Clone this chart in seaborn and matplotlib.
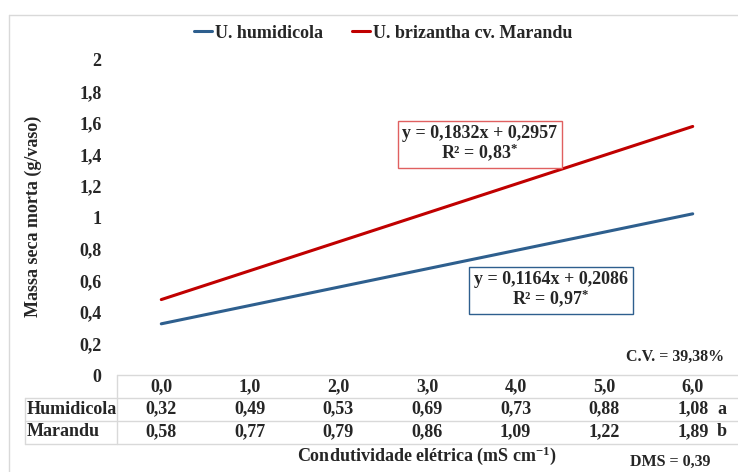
import matplotlib
matplotlib.use("Agg")
import matplotlib.pyplot as plt
from matplotlib.lines import Line2D
from matplotlib.patches import Rectangle
from matplotlib.transforms import blended_transform_factory
import numpy as np
import pandas as pd
import seaborn as sns

# Electrical conductivity levels (mS cm-1) and measured dry dead mass (g/vaso)
conductivity = ["0,0", "1,0", "2,0", "3,0", "4,0", "5,0", "6,0"]
humidicola_vals = ["0,32", "0,49", "0,53", "0,69", "0,73", "0,88", "1,08"]
marandu_vals = ["0,58", "0,77", "0,79", "0,86", "1,09", "1,22", "1,89"]
row_letters = ["a", "b"]

# Fitted regressions (x = level position 1..7)
species = ["U. humidicola", "U. brizantha cv. Marandu"]
slopes = [0.1164, 0.1832]
intercepts = [0.2086, 0.2957]
eq_labels = ["y = 0,1164x + 0,2086\nR² = 0,97$^{*}$",
             "y = 0,1832x + 0,2957\nR² = 0,83$^{*}$"]
colors = ["#2E5F8E", "#C00000"]

yticks = [0, 0.2, 0.4, 0.6, 0.8, 1.0, 1.2, 1.4, 1.6, 1.8, 2.0]
ytick_labels = ["0", "0,2", "0,4", "0,6", "0,8", "1", "1,2", "1,4", "1,6", "1,8", "2"]

sns.set_theme(style="white")
plt.rcParams["font.family"] = ["Liberation Serif", "DejaVu Serif"]
plt.rcParams["font.weight"] = "bold"
plt.rcParams["mathtext.fontset"] = "custom"
plt.rcParams["mathtext.rm"] = "Liberation Serif:bold"
plt.rcParams["mathtext.it"] = "Liberation Serif:bold"
plt.rcParams["mathtext.bf"] = "Liberation Serif:bold"
plt.rcParams["mathtext.default"] = "rm"

W, H = 738, 472
fig = plt.figure(figsize=(W / 100, H / 100), dpi=100)
fig.patch.set_facecolor("white")


def fx(px):
    return px / W


def fy(py):
    return 1 - py / H


ax = fig.add_axes([fx(117), fy(375), fx(737) - fx(117), fy(60) - fy(375)])

xpos = np.arange(1, len(conductivity) + 1)
rows = []
for sp, m, b in zip(species, slopes, intercepts):
    for x in xpos:
        rows.append({"x": x, "y": m * x + b, "species": sp})
df = pd.DataFrame(rows)

sns.lineplot(data=df, x="x", y="y", hue="species", palette=colors,
             linewidth=2.2, ax=ax, legend=False)

ax.set_xlim(0.5, 7.5)
ax.set_ylim(0, 2)
ax.set_yticks(yticks)
ax.set_yticklabels(ytick_labels, fontsize=13, fontweight="bold")
ax.tick_params(axis="y", length=0, pad=11)
ax.set_xticks([])
ax.set_xlabel("")
ax.set_ylabel("")
for s in ax.spines.values():
    s.set_visible(False)
ax.patch.set_alpha(0)

# Legend
handles = [Line2D([], [], color=c, lw=2.2) for c in colors]
fig.legend(handles, species, loc="center", bbox_to_anchor=(fx(383), fy(33)),
           ncol=2, frameon=False, handlelength=1.0, handletextpad=0.15,
           columnspacing=1.6, prop={"family": "Liberation Serif", "weight": "bold", "size": 13})

# Equation boxes
fig.text(fx(551), fy(290), eq_labels[0], ha="center", va="center", fontsize=13,
         fontweight="bold", linespacing=1.0,
         bbox=dict(boxstyle="square,pad=0.25", fc="white", ec="#2E5F8E", lw=1.0))
fig.text(fx(480), fy(144), eq_labels[1], ha="center", va="center", fontsize=13,
         fontweight="bold", linespacing=1.0,
         bbox=dict(boxstyle="square,pad=0.25", fc="white", ec="#E06060", lw=1.0))

# Axis titles
fig.text(fx(33), fy(216), "Massa seca morta (g/vaso)", rotation=90, ha="center",
         va="center", fontsize=13, fontweight="bold")
fig.text(fx(427), fy(456), "Condutividade elétrica (mS cm$^{-1}$)", ha="center",
         va="center", fontsize=13, fontweight="bold")
fig.text(fx(675), fy(357), "C.V. = 39,38%", ha="center", va="center",
         fontsize=11.5, fontweight="bold")
fig.text(fx(670), fy(462), "DMS = 0,39", ha="center", va="center",
         fontsize=11.5, fontweight="bold")

# Data table under the plot
grid = "#D9D9D9"
tr = blended_transform_factory(ax.transData, fig.transFigure)
row_y = [387, 409, 432]
for i, x in enumerate(xpos):
    ax.text(x, fy(row_y[0]), conductivity[i], transform=tr, ha="center",
            va="center", fontsize=13, fontweight="bold", clip_on=False)
    ax.text(x, fy(row_y[1]), humidicola_vals[i], transform=tr, ha="center",
            va="center", fontsize=13, fontweight="bold", clip_on=False)
    ax.text(x, fy(row_y[2]), marandu_vals[i], transform=tr, ha="center",
            va="center", fontsize=13, fontweight="bold", clip_on=False)
fig.text(fx(27), fy(row_y[1]), "Humidicola", ha="left", va="center",
         fontsize=13, fontweight="bold")
fig.text(fx(27), fy(row_y[2]), "Marandu", ha="left", va="center",
         fontsize=13, fontweight="bold")
fig.text(fx(722), fy(row_y[1]), row_letters[0], ha="center", va="center",
         fontsize=13, fontweight="bold")
fig.text(fx(722), fy(row_y[2]), row_letters[1], ha="center", va="center",
         fontsize=13, fontweight="bold")

lines = [
    ((117, 738), (375, 375)),
    ((25, 738), (398, 398)),
    ((25, 738), (421, 421)),
    ((25, 738), (444, 444)),
    ((117, 117), (375, 444)),
    ((25, 25), (398, 444)),
    # outer chart frame
    ((9, 738), (15, 15)),
    ((9, 9), (15, 472)),
]
for (x0, x1), (y0, y1) in lines:
    fig.add_artist(Line2D([fx(x0), fx(x1)], [fy(y0), fy(y1)], color=grid, lw=1.0,
                          transform=fig.transFigure))

fig.savefig("out.png", dpi=100)
